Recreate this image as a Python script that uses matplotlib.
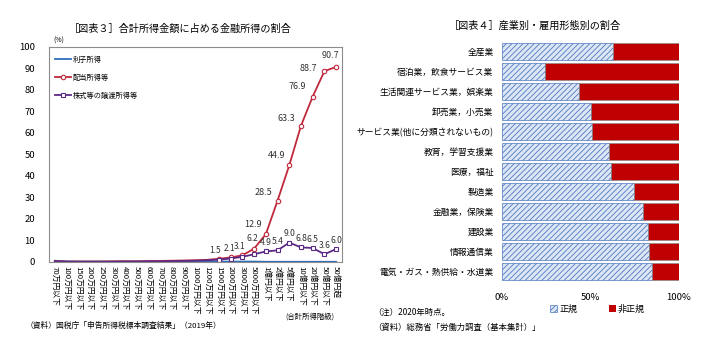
import numpy as np
import matplotlib.pyplot as plt
from matplotlib.patches import Patch

plt.rcParams['font.family'] = ['Noto Sans CJK JP', 'DejaVu Sans']
plt.rcParams['hatch.linewidth'] = 0.6

# left chart: share of financial income by total income class (%)
income_classes = ["70万円以下", "100万円以下", "150万円以下", "200万円以下", "250万円以下",
                  "300万円以下", "400万円以下", "500万円以下", "600万円以下", "700万円以下",
                  "800万円以下", "900万円以下", "1000万円以下", "1200万円以下", "1500万円以下",
                  "2000万円以下", "3000万円以下", "5000万円以下", "1億円以下", "2億円以下",
                  "5億円以下", "10億円以下", "20億円以下", "50億円以下", "50億円超"]
interest = [0.6, 0.3, 0.2, 0.2, 0.2, 0.2, 0.2, 0.2, 0.2, 0.2, 0.2, 0.2, 0.2,
            0.2, 0.2, 0.2, 0.2, 0.2, 0.1, 0.1, 0.1, 0.1, 0.1, 0.1, 0.1]
dividend = [0.4, 0.2, 0.2, 0.2, 0.2, 0.3, 0.3, 0.3, 0.4, 0.5, 0.6, 0.7, 0.8,
            1.0, 1.5, 2.1, 3.1, 6.2, 12.9, 28.5, 44.9, 63.3, 76.9, 88.7, 90.7]
stock = [0.3, 0.1, 0.1, 0.1, 0.1, 0.1, 0.2, 0.2, 0.3, 0.3, 0.4, 0.5, 0.6,
         0.8, 1.1, 1.6, 2.4, 3.6, 4.9, 5.4, 9.0, 6.8, 6.5, 3.6, 6.0]

# right chart: regular / non-regular employee share by industry (%)
industries = ["全産業", "宿泊業，飲食サービス業", "生活関連サービス業，娯楽業", "卸売業，小売業",
              "サービス業(他に分類されないもの)", "教育，学習支援業", "医療，福祉", "製造業",
              "金融業，保険業", "建設業", "情報通信業", "電気・ガス・熱供給・水道業"]
regular = [62.8, 24.5, 43.4, 50.6, 51.0, 60.4, 61.5, 74.5, 79.6, 82.8, 83.0, 84.7]
nonregular = [100 - r for r in regular]

red = '#C0283C'
purple = '#5B2A86'
blue = '#2F6EBA'

fig = plt.figure(figsize=(7.2, 3.55), dpi=100)

# ---- left chart ----
ax = fig.add_axes([0.068, 0.262, 0.407, 0.606])
x = np.arange(len(income_classes))
ax.plot(x, interest, color=blue, lw=1.3, label="利子所得")
ax.plot(x, dividend, color=red, lw=1.3, marker='o', ms=3.2, mfc='white', mew=0.8,
        markevery=list(range(14, 25)), label="配当所得等")
ax.plot(x, stock, color=purple, lw=1.3, marker='s', ms=3.2, mfc='white', mew=0.8,
        markevery=list(range(14, 25)), label="株式等の譲渡所得等")
ax.set_xlim(-0.5, len(x) - 0.5)
ax.set_ylim(0, 100)
ax.set_yticks(range(0, 101, 10))
ax.set_xticks(x)
ax.set_xticklabels(income_classes, rotation=270, fontsize=5.6)
ax.tick_params(axis='y', labelsize=6.8, length=0, pad=10)
ax.tick_params(axis='x', length=0, pad=3)
for s in ax.spines.values():
    s.set_color('#8c8c8c')
    s.set_linewidth(0.8)

# dividend labels (offsets in points)
div_offsets = {14: (-3, 3), 15: (-1, 3), 16: (-2, 3), 17: (-1, 4), 18: (-3, 4),
               19: (-4, 3), 20: (-3, 4), 21: (-4, 2), 22: (-5, 4), 23: (-5, -1), 24: (-4, 5)}
for i, (dx, dy) in div_offsets.items():
    ha = 'center' if i <= 17 or i == 24 else 'right'
    fs = 6.0 if i <= 17 else 6.5
    ax.annotate(f"{dividend[i]:.1f}", (x[i], dividend[i]), xytext=(dx, dy),
                textcoords='offset points', ha=ha, va='bottom', fontsize=fs, color='#333333')
for i in range(18, 25):
    ax.annotate(f"{stock[i]:.1f}", (x[i], stock[i]), xytext=(0, 3),
                textcoords='offset points', ha='center', va='bottom', fontsize=6.2, color='#333333')

ax.legend(loc='upper left', frameon=False, fontsize=5.2, handlelength=2.2,
          handletextpad=0.2, labelspacing=1.4, bbox_to_anchor=(0.0, 0.99))
fig.text(0.25, 0.918, "［図表３］合計所得金額に占める金融所得の割合", ha='center', va='center', fontsize=7.3)
fig.text(0.074, 0.887, "(%)", ha='left', va='center', fontsize=5)
fig.text(0.43, 0.107, "(合計所得階級)", ha='center', va='center', fontsize=5.3)
fig.text(0.036, 0.082, "（資料）国税庁「申告所得税標本調査結果」（2019年）", ha='left', va='center', fontsize=5.6)

# ---- right chart ----
ax2 = fig.add_axes([0.697, 0.206, 0.246, 0.678])
y = np.arange(len(industries))
ax2.barh(y, regular, height=0.84, color='#DDE6F5', edgecolor='#4F78C0', hatch='//////', lw=0.5)
ax2.barh(y, nonregular, left=regular, height=0.84, color='#C00000', edgecolor='#8c8c8c', lw=0.5)
ax2.set_ylim(len(y) - 0.5, -0.5)
ax2.set_xlim(0, 100)
ax2.set_yticks(y)
ax2.set_yticklabels(industries, fontsize=6.3)
ax2.set_xticks([0, 50, 100])
ax2.set_xticklabels(["0%", "50%", "100%"], fontsize=6.8)
ax2.tick_params(length=0)
ax2.tick_params(axis='x', pad=8)
ax2.tick_params(axis='y', pad=6)
for s in ax2.spines.values():
    s.set_visible(False)

fig.text(0.743, 0.927, "［図表４］産業別・雇用形態別の割合", ha='center', va='center', fontsize=7.3)
handles = [Patch(facecolor='#DDE6F5', edgecolor='#4F78C0', hatch='//////', lw=0.5, label="正規"),
           Patch(facecolor='#C00000', label="非正規")]
fig.legend(handles=handles, loc='center', bbox_to_anchor=(0.83, 0.13), ncol=2, frameon=False,
           fontsize=6.5, handlelength=0.8, handleheight=0.8, handletextpad=0.2, columnspacing=3.5)
fig.text(0.518, 0.121, "（注）2020年時点。", ha='left', va='center', fontsize=6)
fig.text(0.518, 0.079, "（資料）総務省「労働力調査（基本集計）」", ha='left', va='center', fontsize=6)

fig.savefig("out.png", dpi=100)
